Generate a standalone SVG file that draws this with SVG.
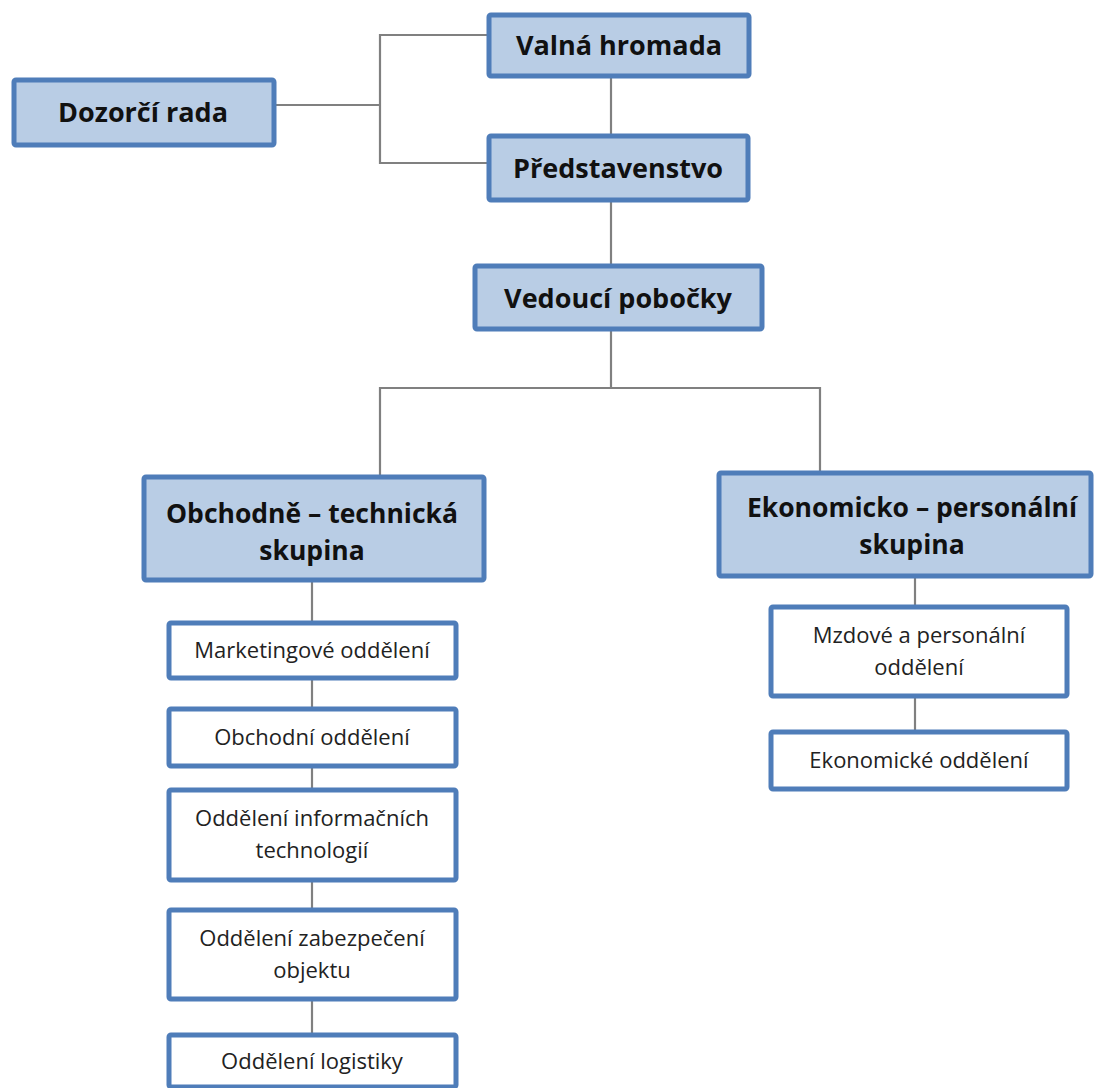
<svg xmlns="http://www.w3.org/2000/svg" width="1096" height="1088" viewBox="0 0 1096 1088">
<style>
.big rect{fill:#b9cde5;stroke:#4f7db9;stroke-width:5}
.small rect{fill:#ffffff;stroke:#4f7db9;stroke-width:5}
.big text{font-family:"Open Sans","Liberation Sans",sans-serif;font-weight:bold;font-size:27px;fill:#111;text-anchor:middle}
.big text.two{font-size:26.5px}
.small text{font-family:"Open Sans","Liberation Sans",sans-serif;font-size:22px;fill:#222;text-anchor:middle}
#connectors path{fill:none;stroke:#808080;stroke-width:2.2}
</style>
<rect width="1096" height="1088" fill="#ffffff"/>
<g id="connectors">
<path d="M275,105 H380"/>
<path d="M487,35 H380 V163 H487"/>
<path d="M611,77 V134"/>
<path d="M611,201 V264"/>
<path d="M611,330 V388"/>
<path d="M380,476 V388 H820 V471"/>
<path d="M312,581 V621"/>
<path d="M312,679 V707"/>
<path d="M312,767 V788"/>
<path d="M312,881 V908"/>
<path d="M312,1000 V1033"/>
<path d="M915,577 V605"/>
<path d="M915,697 V730"/>
</g>
<g id="dozorci" class="big"><rect x="14" y="80" width="260" height="65" rx="2"/><text x="143" y="122">Dozorčí rada</text></g>
<g id="valna" class="big"><rect x="489" y="15" width="260" height="61" rx="2"/><text x="619" y="55">Valná hromada</text></g>
<g id="predstavenstvo" class="big"><rect x="489" y="136" width="259" height="64" rx="2"/><text x="618" y="178">Představenstvo</text></g>
<g id="vedouci" class="big"><rect x="475" y="266" width="287" height="63" rx="2"/><text x="618" y="308">Vedoucí pobočky</text></g>
<g id="obchodne" class="big"><rect x="144" y="477" width="340" height="103" rx="2"/><text class="two" x="312" y="523">Obchodně – technická</text><text class="two" x="312" y="560">skupina</text></g>
<g id="ekonomicko" class="big"><rect x="719" y="473" width="372" height="103" rx="2"/><text class="two" x="912" y="517">Ekonomicko – personální</text><text class="two" x="912" y="554">skupina</text></g>
<g id="marketing" class="small"><rect x="169" y="623" width="287" height="55" rx="2"/><text x="312" y="658">Marketingové oddělení</text></g>
<g id="obchodni" class="small"><rect x="169" y="709" width="287" height="57" rx="2"/><text x="312" y="745">Obchodní oddělení</text></g>
<g id="it" class="small"><rect x="169" y="790" width="287" height="90" rx="2"/><text x="312" y="826">Oddělení informačních</text><text x="312" y="858">technologií</text></g>
<g id="zabezpeceni" class="small"><rect x="169" y="910" width="287" height="89" rx="2"/><text x="312" y="946">Oddělení zabezpečení</text><text x="312" y="978">objektu</text></g>
<g id="logistika" class="small"><rect x="169" y="1035" width="287" height="52" rx="2"/><text x="312" y="1069">Oddělení logistiky</text></g>
<g id="mzdove" class="small"><rect x="771" y="607" width="296" height="89" rx="2"/><text x="919" y="643">Mzdové a personální</text><text x="919" y="675">oddělení</text></g>
<g id="ekonomicke" class="small"><rect x="771" y="732" width="296" height="57" rx="2"/><text x="919" y="768">Ekonomické oddělení</text></g>
</svg>
